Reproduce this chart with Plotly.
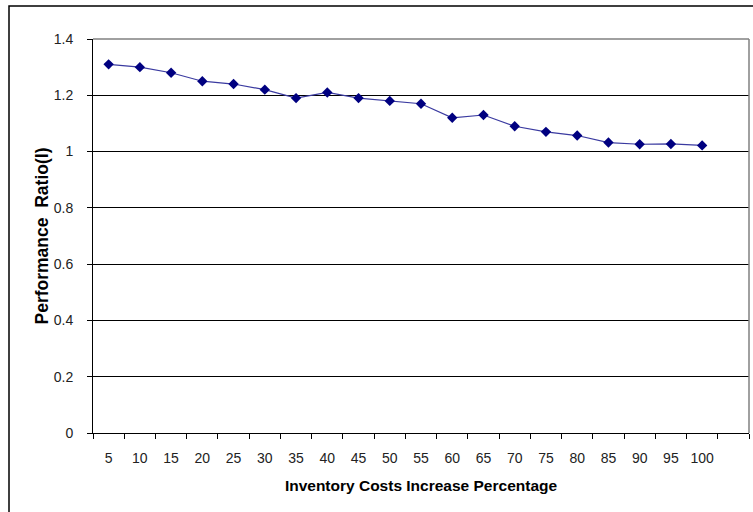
import plotly.graph_objects as go

categories = ["5", "10", "15", "20", "25", "30", "35", "40", "45", "50",
              "55", "60", "65", "70", "75", "80", "85", "90", "95", "100"]
ratio = [1.31, 1.30, 1.28, 1.25, 1.24, 1.22, 1.19, 1.21, 1.19, 1.18,
         1.17, 1.12, 1.13, 1.09, 1.07, 1.057, 1.032, 1.026, 1.027, 1.022]
y_ticks = [0, 0.2, 0.4, 0.6, 0.8, 1.0, 1.2, 1.4]
y_ticktext = ["0", "0.2", "0.4", "0.6", "0.8", "1", "1.2", "1.4"]
x_title = "Inventory Costs Increase Percentage"
y_title = "Performance  Ratio(I)"

cat_array = categories + [" "]
FONT = "Liberation Sans, Arial, sans-serif"

fig = go.Figure()
fig.add_trace(go.Scatter(
    x=categories, y=ratio, mode="lines+markers",
    line=dict(color="#3a3aa0", width=1.2),
    marker=dict(symbol="diamond", size=8, color="#000080"),
    showlegend=False, cliponaxis=False,
))

fig.update_layout(
    width=753, height=512,
    margin=dict(l=93, r=4, t=39, b=79),
    paper_bgcolor="white", plot_bgcolor="white",
    font=dict(family=FONT, size=14, color="#222222"),
    xaxis=dict(
        type="category", categoryorder="array", categoryarray=cat_array,
        range=[-0.5, len(cat_array) - 0.5],
        tickson="boundaries", ticks="outside", ticklen=5, tickcolor="black",
        showgrid=False, showline=True, linecolor="black", linewidth=1,
        tickangle=0, ticklabelstandoff=12,
        tickfont=dict(family=FONT, size=14, color="#222222"),
        title=dict(text="<b>" + x_title + "</b>", standoff=15,
                   font=dict(family=FONT, size=15.5, color="black")),
        zeroline=False,
    ),
    yaxis=dict(
        range=[0, 1.4], tickvals=y_ticks, ticktext=y_ticktext,
        ticks="outside", ticklen=5, tickcolor="black",
        showgrid=True, gridcolor="black", gridwidth=1,
        showline=True, linecolor="black", linewidth=1,
        ticklabelstandoff=11,
        tickfont=dict(family=FONT, size=14, color="#222222"),
        title=dict(text="<b>" + y_title + "</b>", standoff=0,
                   font=dict(family=FONT, size=17.5, color="black")),
        zeroline=False,
    ),
    shapes=[
        # plot-area top and right border (gray)
        dict(type="line", xref="paper", yref="paper", x0=0, x1=1, y0=1, y1=1,
             line=dict(color="#808080", width=1.5), layer="above"),
        dict(type="line", xref="paper", yref="paper", x0=1, x1=1, y0=0, y1=1,
             line=dict(color="#808080", width=1.5), layer="above"),
        # outer chart border
        dict(type="rect", xref="paper", yref="paper",
             x0=(9 - 93) / 656, x1=1.2, y0=-0.4, y1=(433 - 6) / 394,
             line=dict(color="black", width=1.5), layer="below"),
    ],
)

fig.write_html("out.html", config={"displayModeBar": False},
               post_script="document.body.style.margin='0';")
